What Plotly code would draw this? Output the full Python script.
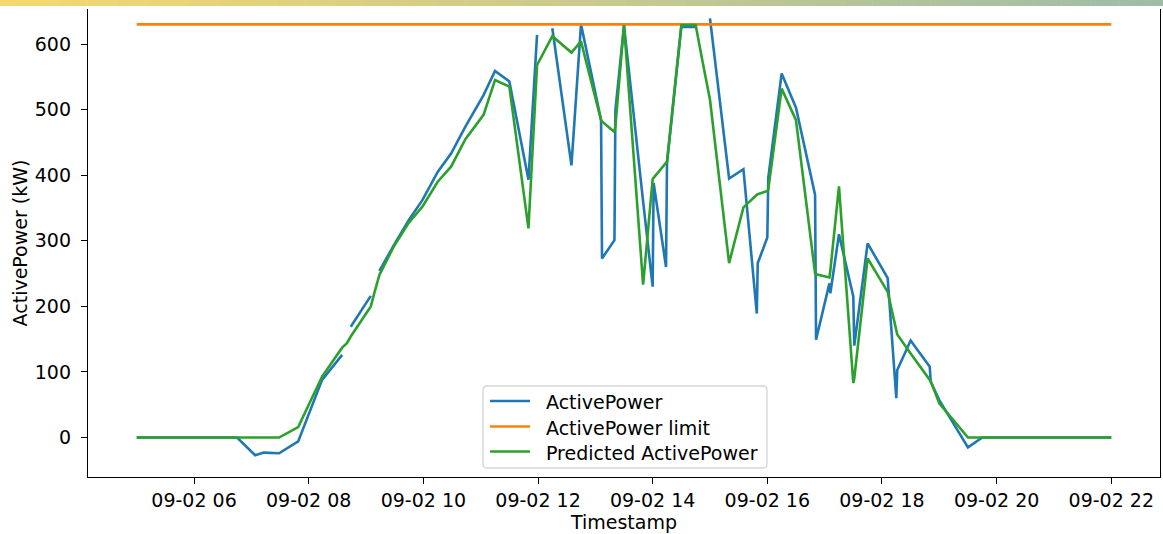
import plotly.graph_objects as go

# Measurement times (2023-09-02), active power readings and model predictions (kW)
times = [
    "05:00", "05:30", "06:00", "06:30", "06:45", "07:04", "07:13", "07:29", "07:49",
    "08:14", "08:35", "08:40", "08:44", "09:05", "09:09", "09:14", "09:29", "09:45",
    "09:59", "10:15", "10:29", "10:44", "11:03", "11:15", "11:30", "11:50", "11:59",
    "12:07", "12:15", "12:35", "12:45", "13:06", "13:07", "13:20", "13:21", "13:30",
    "13:50", "14:00", "14:01", "14:14", "14:15", "14:30", "14:45", "14:52", "15:00",
    "15:20", "15:35", "15:49", "15:50", "16:00", "16:01", "16:15", "16:30", "16:50",
    "16:51", "17:05", "17:06", "17:15", "17:30", "17:31", "17:45", "18:06", "18:15",
    "18:16", "18:30", "18:50", "18:51", "19:00", "19:30", "19:45", "20:00", "20:30",
    "21:00", "21:30", "22:00",
]

active_power = [
    0, 0, 0, 0, 0, -27, -23, -24, -6,
    88, 126, None, 169, 216, None, 254, 293, 332,
    362, 405, 433, 474, 522, 559, 543, 393, 614,
    None, 624, 415, 630, 484, 273, 301, 499, 628,
    360, 230, 388, 260, 418, 626, 626, None, 639,
    395, 409, 189, 266, 305, 396, 555, 503, 370,
    149, 235, 220, 310, 215, 140, 296, 243, 60,
    103, 148, 108, 85, 57, -15, 0, 0, 0,
    0, 0, 0,
]

predicted_power = [
    0, 0, 0, 0, 0, 0, 0, 0, 16,
    93, 137, 144, 154, 200, 222, 248, 291, 328,
    352, 390, 413, 455, 492, 545, 535, 319, 568,
    589, 612, 587, 604, 484, 482, 466, 475, 629,
    233, 394, 396, 419, 421, 629, 629, 575, 515,
    266, 351, 370, 371, 376, 378, 532, 484, 250,
    249, 244, 255, 383, 83, 90, 273, 222, 159,
    157, 128, 88, 86, 52, 0, 0, 0, 0,
    0, 0, 0,
]

power_limit = 630

series_names = ["ActivePower", "ActivePower limit", "Predicted ActivePower"]
series_colors = ["#1f77b4", "#ff7f0e", "#2ca02c"]

day = "2023-09-02"
timestamps = [f"{day} {t}" for t in times]
limit_values = [power_limit] * len(timestamps)

FONT = "DejaVu Sans"
FS = 19
LW = 2.6

fig = go.Figure()
for name, color, values in zip(series_names, series_colors,
                               [active_power, limit_values, predicted_power]):
    fig.add_trace(go.Scatter(x=timestamps, y=values, mode="lines", name=name,
                             line=dict(color=color, width=LW), showlegend=False))

W, H = 1163, 534
ml, mr, mt, mb = 88, 3, 9, 57
pw, ph = W - ml - mr, H - mt - mb


def px_x(px):
    return (px - ml) / pw


def px_y(py):
    return (H - mb - py) / ph


shapes = []

# decorative gradient strip along the top edge
c0 = (245, 216, 112)
c1 = (158, 188, 168)
n = 80
for i in range(n):
    f = i / (n - 1)
    col = tuple(round(c0[k] + (c1[k] - c0[k]) * f) for k in range(3))
    shapes.append(dict(type="rect", xref="paper", yref="paper",
                       x0=px_x(W * i / n), x1=px_x(W * (i + 1) / n + 0.5),
                       y0=px_y(6), y1=px_y(0),
                       fillcolor=f"rgb{col}", line=dict(width=0), layer="above"))

# legend frame with rounded corners
bx0, bx1, by0, by1, r = 483, 767, 386, 468, 4
path = (
    f"M {px_x(bx0 + r)} {px_y(by0)} L {px_x(bx1 - r)} {px_y(by0)} "
    f"Q {px_x(bx1)} {px_y(by0)} {px_x(bx1)} {px_y(by0 + r)} "
    f"L {px_x(bx1)} {px_y(by1 - r)} Q {px_x(bx1)} {px_y(by1)} {px_x(bx1 - r)} {px_y(by1)} "
    f"L {px_x(bx0 + r)} {px_y(by1)} Q {px_x(bx0)} {px_y(by1)} {px_x(bx0)} {px_y(by1 - r)} "
    f"L {px_x(bx0)} {px_y(by0 + r)} Q {px_x(bx0)} {px_y(by0)} {px_x(bx0 + r)} {px_y(by0)} Z"
)
shapes.append(dict(type="path", xref="paper", yref="paper", path=path,
                   fillcolor="rgba(255,255,255,0.8)", line=dict(color="#d6d6d6", width=1.3),
                   layer="above"))

annotations = []
entry_y = [401, 426.5, 451.5]
for name, color, ey in zip(series_names, series_colors, entry_y):
    shapes.append(dict(type="line", xref="paper", yref="paper",
                       x0=px_x(490), x1=px_x(530), y0=px_y(ey), y1=px_y(ey),
                       line=dict(color=color, width=LW), layer="above"))
    annotations.append(dict(text=name, xref="paper", yref="paper",
                            x=px_x(544), y=px_y(ey + 1), xanchor="left", yanchor="middle",
                            showarrow=False, font=dict(family=FONT, size=FS, color="black")))

fig.update_layout(
    width=W, height=H,
    margin=dict(l=ml, r=mr, t=mt, b=mb),
    paper_bgcolor="white", plot_bgcolor="white",
    font=dict(family=FONT, size=FS, color="black"),
    showlegend=False,
    shapes=shapes,
    annotations=annotations,
    xaxis=dict(
        range=[f"{day} 04:09", f"{day} 22:51"],
        type="date", tick0=f"{day} 06:00", dtick=7200000, tickformat="%m-%d %H",
        showgrid=False, zeroline=False,
        showline=True, linecolor="black", linewidth=1.3,
        ticks="outside", ticklen=6, tickwidth=1.3, tickcolor="black",
        title=dict(text="Timestamp", standoff=4, font=dict(family=FONT, size=FS)),
    ),
    yaxis=dict(
        range=[-60.2, 653.4],
        tickmode="array", tickvals=[0, 100, 200, 300, 400, 500, 600],
        showgrid=False, zeroline=False,
        showline=True, linecolor="black", linewidth=1.3, mirror=True,
        ticks="outside", ticklen=6, tickwidth=1.3, tickcolor="black",
        ticklabelstandoff=6,
        title=dict(text="ActivePower (kW)", standoff=2, font=dict(family=FONT, size=FS)),
    ),
)

fig.write_html("out.html")
